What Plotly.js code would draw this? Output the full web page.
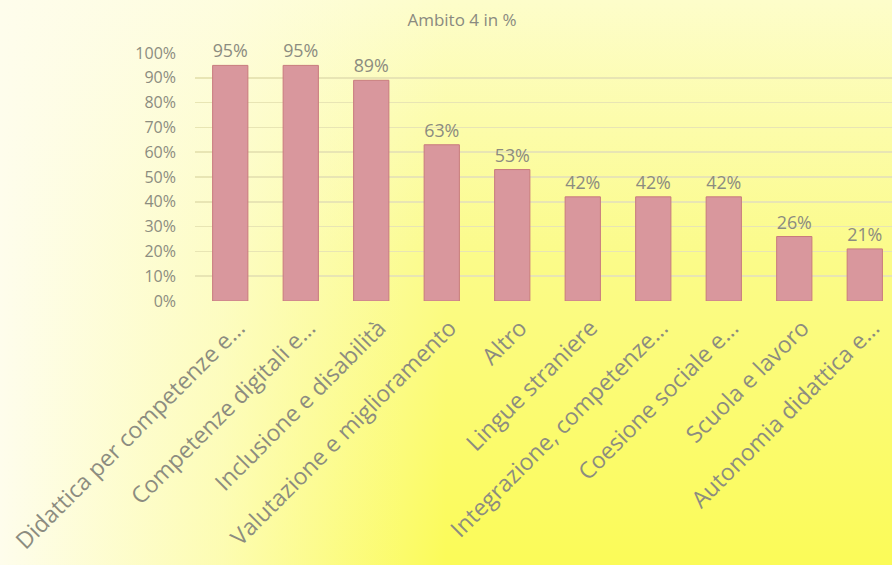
<!DOCTYPE html>
<html>
<head>
<meta charset="utf-8">
<script src="https://cdn.plot.ly/plotly-3.0.1.min.js"></script>
<style>
html,body{margin:0;padding:0;}
#chart{width:892px;height:565px;
background:
 linear-gradient(to right, rgba(254,253,236,1) 0%, rgba(254,253,236,0.6) 25%, rgba(254,253,236,0) 50%),
 linear-gradient(to bottom, #fdfdca 0%, #fbfb8a 45%, #fbfb58 100%);}
</style>
</head>
<body>
<div id="chart"></div>
<script>
var categories = ["Didattica per competenze e…","Competenze digitali e…","Inclusione e disabilità","Valutazione e miglioramento","Altro","Lingue straniere","Integrazione, competenze…","Coesione sociale e…","Scuola e lavoro","Autonomia didattica e…"];
var values = [0.95,0.95,0.89,0.63,0.53,0.42,0.42,0.42,0.26,0.21];
var valueLabels = ["95%","95%","89%","63%","53%","42%","42%","42%","26%","21%"];
var yTicks = [0,0.1,0.2,0.3,0.4,0.5,0.6,0.7,0.8,0.9,1.0];
var yTickLabels = ["0%","10%","20%","30%","40%","50%","60%","70%","80%","90%","100%"];

var gray = "#8c8c80";
var font = "'Open Sans', sans-serif";
var trace = {
  type:"bar", x:categories, y:values,
  text:valueLabels, textposition:"outside", cliponaxis:false,
  textfont:{family:font, size:18, color:gray},
  marker:{color:"#d9979d", line:{color:"#c87a7e", width:1}},
  width:0.5, hoverinfo:"none"
};
var layout = {
  width:892, height:565,
  paper_bgcolor:"rgba(0,0,0,0)", plot_bgcolor:"rgba(0,0,0,0)",
  margin:{l:195, r:0, t:53, b:264},
  showlegend:false,
  title:{text:"Ambito 4 in %", font:{family:font, size:17, color:"#8a8a80"},
    x:0.518, xanchor:"center", xref:"container", y:1-20/565, yanchor:"middle"},
  xaxis:{type:"category", range:[-0.5, 9.386], tickangle:-45,
    tickfont:{family:font, size:23, color:gray}, ticklabelstandoff:8, ticklabelshift:8,
    showgrid:false, zeroline:false, showline:false, ticks:"", automargin:false},
  yaxis:{range:[0,1.0], tickvals:yTicks, ticktext:yTickLabels,
    tickfont:{family:font, size:16, color:gray},
    showgrid:true, gridcolor:"#e8e5b4", gridwidth:1.5, zeroline:false, showline:false,
    ticks:"", ticklabelstandoff:18, automargin:false},
  bargap:0.5
};
Plotly.newPlot("chart",[trace],layout,{staticPlot:true, displayModeBar:false});
</script>
</body>
</html>
